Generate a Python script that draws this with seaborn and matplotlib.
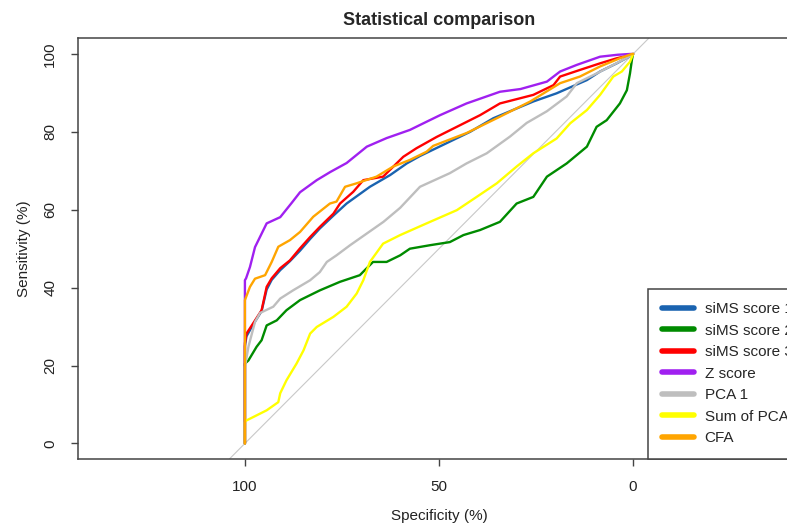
import pandas as pd
import matplotlib
matplotlib.use("Agg")
import matplotlib.pyplot as plt
import seaborn as sns
from matplotlib.lines import Line2D


## DATOS (especificidad %, sensibilidad %) ##

score_names = ["siMS score 1", "siMS score 2", "siMS score 3", "Z score",
               "PCA 1", "Sum of PCA", "CFA"]
score_colors = ["#1A63B0", "#008B00", "#FF0000", "#A020F0",
                "#BEBEBE", "#FFFF00", "#FFA500"]

sims1_spec = [100, 100, 99.6, 97.9, 95.7, 94.4, 93.1, 90.9, 88.4, 85.8, 83.2, 80.7, 77.2,
              73.8, 67.8, 62.6, 58.3, 54.9, 47.2, 42, 36, 30.5, 25.7, 19.7, 11.9, 8.5, 4.2, 0.3, 0]
sims1_sens = [0, 25, 27.5, 30.5, 34, 39.5, 42, 44.5, 46.8, 49.5, 52.5, 55.2, 58.5,
              61.6, 65.9, 68.9, 71.9, 73.8, 77.5, 80, 83.5, 85.8, 87.8, 89.9, 93.3, 95.5, 97.6, 99.7, 100]

sims2_spec = [100, 100, 99.1, 97, 95.7, 94.4, 91.8, 89.3, 85.8, 80.7, 75.5, 70.4, 67, 63.5, 60,
              57.5, 52.3, 47.2, 43.7, 39.4, 34.3, 30, 25.7, 22.2, 17.1, 11.9, 9.4, 6.8, 3.4, 1.6,
              0.8, 0.3, 0]
sims2_sens = [0, 20.5, 21.3, 24.8, 26.5, 30.3, 31.6, 34.2, 36.8, 39.3, 41.5, 43.2, 46.6, 46.6, 48.3,
              50, 50.9, 51.7, 53.5, 54.8, 56.9, 61.6, 63.3, 68.5, 71.9, 76.2, 81.3, 83, 87.3, 90.7,
              95, 98.5, 100]

sims3_spec = [100, 100, 99.6, 97.9, 95.7, 94.4, 93.1, 90.9, 88.4, 85.8, 83.2, 80.7, 77.2, 75.5,
              72.1, 69.5, 64.4, 59.2, 55.8, 50.6, 45.4, 39.4, 34.3, 25.7, 20.5, 18.8, 13.7, 8.5,
              4.2, 0.3, 0]
sims3_sens = [0, 25.7, 28.2, 30.8, 34.2, 40.2, 42.4, 45, 47, 50.1, 53, 55.6, 59, 61.6,
              64.6, 67.6, 68.5, 73.6, 75.8, 78.7, 81.3, 84.3, 87.3, 89.5, 92, 94.2, 95.9, 97.6,
              98.9, 99.8, 100]

z_spec = [100, 100, 99.7, 98.7, 97.4, 94.4, 90.9, 88, 85.8, 81.5, 78, 73.8, 68.6, 63.5, 57.5,
          53.2, 49.7, 42.9, 34.3, 29, 22.2, 18.8, 14.5, 8.5, 4, 0.8, 0]
z_sens = [0, 41.9, 42.4, 45.3, 50.4, 56.5, 58.1, 61.7, 64.5, 67.6, 69.7, 72, 76.2, 78.4, 80.5,
          82.6, 84.3, 87.3, 90.3, 91, 92.9, 95.5, 97.2, 99.3, 99.8, 100, 100]

pca1_spec = [100, 100, 99.1, 98.2, 97.4, 96.1, 92.7, 90.9, 87.6, 83.2, 80.7, 78.9, 76.4, 72.9,
             68.6, 64.3, 60, 54.9, 47.2, 42.9, 37.7, 31.7, 27.4, 22.2, 17.1, 14.5, 9.4, 5.1, 0.3, 0]
pca1_sens = [0, 19.6, 24.8, 28.2, 31.2, 33.5, 35.1, 37.2, 39.3, 41.9, 44, 46.6, 48.3, 50.9,
             53.9, 56.9, 60.5, 65.9, 69.4, 71.9, 74.5, 78.8, 82.3, 85.3, 89.1, 92.5, 95, 97.2, 99.7, 100]

sumpca_spec = [100, 100, 99.6, 94.4, 91.4, 90.9, 89.3, 86.7, 84.9, 83.2, 81.5, 77.2, 73.8, 71.2,
               69.5, 67.8, 64.4, 60, 53.2, 45.4, 40.3, 35.1, 30, 25.7, 19.7, 16.2, 11.9, 8.5, 5.1,
               2.9, 0.8, 0]
sumpca_sens = [0, 5.5, 5.9, 8.5, 10.6, 12.9, 16.2, 20.5, 23.9, 28.2, 29.9, 32.5, 35.1, 38.5,
               41.9, 46.6, 51.3, 53.5, 56.5, 59.9, 63.3, 66.8, 71.1, 74.5, 78.3, 82.2, 85.6, 89.5, 94.2,
               95.5, 98, 100]

cfa_spec = [100, 100, 98.7, 97.4, 94.8, 93.1, 91.4, 88.4, 85.8, 82.4, 78.1, 76.4, 74.2, 71.2,
            66.1, 61.8, 57.5, 53.2, 51.5, 42.9, 34.3, 26.5, 18.8, 13.7, 8.5, 3.4, 0.3, 0]
cfa_sens = [0, 36.8, 40.2, 42.3, 43.2, 46.6, 50.5, 52.2, 54.3, 58.2, 61.6, 62.1, 65.9, 66.8,
            68.5, 71.1, 72.8, 74.9, 76.4, 79.7, 83.9, 87.8, 92.5, 94.2, 96.8, 98.9, 100, 100]

x_ticks = [100, 50, 0]
y_ticks = [0, 20, 40, 60, 80, 100]


## ARMO EL DATAFRAME LARGO ##

curvas = [(sims1_spec, sims1_sens), (sims2_spec, sims2_sens), (sims3_spec, sims3_sens),
          (z_spec, z_sens), (pca1_spec, pca1_sens), (sumpca_spec, sumpca_sens),
          (cfa_spec, cfa_sens)]
partes = []
for nombre, (spec, sens) in zip(score_names, curvas):
    partes.append(pd.DataFrame({"spec": spec, "sens": sens, "score": nombre}))
df = pd.concat(partes, ignore_index=True)


## GRAFICO ##

sns.set_style("white")
plt.rcParams['font.family'] = ['Liberation Sans', 'DejaVu Sans']

fig = plt.figure(figsize=(7.87, 5.25), dpi=100)
ax = fig.add_axes([78 / 787, 66 / 525, 722 / 787, 420.6 / 525])

ax.axline((100, 0), (0, 100), color="#C8C8C8", lw=0.8, zorder=1)

sns.lineplot(data=df, x="spec", y="sens", hue="score", hue_order=score_names,
             palette=score_colors, sort=False, estimator=None, lw=1.7,
             legend=False, ax=ax, zorder=2)

ax.set_xlim(143, -43)
ax.set_ylim(-4, 104)
ax.set_xticks(x_ticks)
ax.set_yticks(y_ticks)
ax.set_xticklabels([str(t) for t in x_ticks])
ax.set_yticklabels([str(t) for t in y_ticks], rotation=90, va="center")
ax.tick_params(axis="both", direction="out", length=5, width=1, color="#444444",
               labelsize=11, labelcolor="#222222")
ax.tick_params(axis="x", bottom=True, pad=10)
ax.tick_params(axis="y", left=True, pad=10)
for s in ax.spines.values():
    s.set_color("#444444")
    s.set_linewidth(1.1)

ax.set_xlabel("Specificity (%)", fontsize=11, color="#222222", labelpad=11)
ax.set_ylabel("Sensitivity (%)", fontsize=11, color="#222222", labelpad=9)
ax.set_title("Statistical comparison", fontsize=13, fontweight="bold", pad=10)

handles = [Line2D([0], [0], color=c, lw=4, solid_capstyle="round") for c in score_colors]
leg = ax.legend(handles, score_names, loc="lower left", bbox_to_anchor=((648 - 78) / 722, 0),
                borderaxespad=0, fontsize=11, frameon=True, fancybox=False,
                edgecolor="#444444", framealpha=1, handlelength=2.1, handletextpad=0.7,
                labelspacing=0.49, borderpad=0.9)
leg.get_frame().set_linewidth(1.1)

fig.savefig("out.png", dpi=100)
